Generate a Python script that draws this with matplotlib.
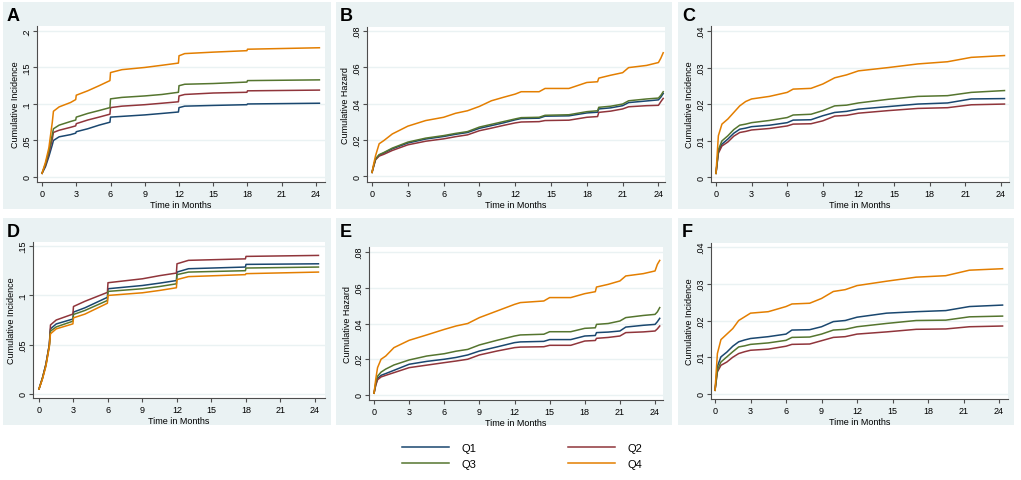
import matplotlib
matplotlib.use('Agg')
import matplotlib.pyplot as plt
from matplotlib.patches import Rectangle

plt.rcParams['font.family'] = ['Liberation Sans', 'DejaVu Sans']

W, H = 1021, 481
colors = {'Q1': '#1A476F', 'Q2': '#90353B', 'Q3': '#55752F', 'Q4': '#E37E00'}
quartiles = ['Q1', 'Q2', 'Q3', 'Q4']

# ---- data ----
# panel A: cumulative incidence
t_a = [0, 0.3, 0.6, 0.9, 1.0, 1.5, 2.5, 2.95, 3.0, 4, 5, 5.95, 6.0, 7, 9, 10.5, 11.95, 12.0, 12.5, 15, 17.95, 18.0, 24.3]
a_q1 = [0.005, 0.014, 0.028, 0.044, 0.050, 0.055, 0.058, 0.060, 0.062, 0.066, 0.071, 0.075, 0.082, 0.083, 0.085, 0.087, 0.089, 0.095, 0.097, 0.098, 0.099, 0.100, 0.101]
a_q2 = [0.005, 0.016, 0.032, 0.052, 0.061, 0.064, 0.068, 0.070, 0.073, 0.078, 0.082, 0.086, 0.095, 0.097, 0.099, 0.101, 0.103, 0.111, 0.113, 0.115, 0.116, 0.118, 0.119]
a_q3 = [0.005, 0.018, 0.035, 0.058, 0.066, 0.071, 0.076, 0.078, 0.082, 0.087, 0.091, 0.095, 0.107, 0.109, 0.111, 0.113, 0.116, 0.125, 0.127, 0.128, 0.130, 0.132, 0.133]
a_q4 = [0.005, 0.020, 0.040, 0.075, 0.090, 0.096, 0.102, 0.106, 0.112, 0.118, 0.125, 0.132, 0.143, 0.147, 0.150, 0.153, 0.156, 0.166, 0.169, 0.171, 0.173, 0.175, 0.177]

# panel B: cumulative hazard
t_b = [0, 0.15, 0.3, 0.6, 1.0, 1.7, 3, 4.5, 6, 7, 8, 9, 10, 11, 12, 12.5, 14, 14.5, 16.5, 18, 18.9, 19, 20, 21, 21.5, 23, 24, 24.2, 24.4]
b_q1 = [0.002, 0.006, 0.0093, 0.0115, 0.0127, 0.0150, 0.0182, 0.0204, 0.0218, 0.023, 0.024, 0.0263, 0.0278, 0.0293, 0.031, 0.0317, 0.0319, 0.033, 0.0332, 0.0348, 0.0352, 0.037, 0.0376, 0.0388, 0.0405, 0.0414, 0.042, 0.0435, 0.0455]
b_q2 = [0.002, 0.0055, 0.009, 0.011, 0.012, 0.0141, 0.0172, 0.0192, 0.0205, 0.0217, 0.0227, 0.025, 0.0264, 0.0279, 0.0293, 0.0298, 0.030, 0.0306, 0.0308, 0.0324, 0.0328, 0.0351, 0.0358, 0.037, 0.0382, 0.0388, 0.039, 0.041, 0.0428]
b_q3 = [0.002, 0.006, 0.0095, 0.0118, 0.013, 0.0154, 0.0187, 0.0209, 0.0223, 0.0235, 0.0245, 0.027, 0.0285, 0.030, 0.0315, 0.0322, 0.0324, 0.0335, 0.0338, 0.0355, 0.036, 0.0379, 0.0385, 0.0397, 0.0415, 0.0425, 0.043, 0.0445, 0.0465]
b_q4 = [0.002, 0.007, 0.0113, 0.0178, 0.0196, 0.0232, 0.0275, 0.0306, 0.0324, 0.0346, 0.036, 0.0384, 0.0415, 0.0434, 0.0452, 0.0465, 0.0465, 0.0483, 0.0483, 0.0516, 0.052, 0.054, 0.0556, 0.057, 0.0598, 0.061, 0.0626, 0.065, 0.068]

# panel C: cumulative incidence
t_c = [0, 0.2, 0.5, 1, 1.5, 2, 2.5, 3, 4.5, 6, 6.5, 8, 9, 10, 11, 12, 14.5, 17, 19.5, 21.5, 24.3]
c_q1 = [0.001, 0.0070, 0.0090, 0.0104, 0.0120, 0.0131, 0.0134, 0.0138, 0.0142, 0.0149, 0.0156, 0.0157, 0.0168, 0.0177, 0.0180, 0.0186, 0.0193, 0.0200, 0.0203, 0.0214, 0.0215]
c_q2 = [0.001, 0.0065, 0.0085, 0.0096, 0.0112, 0.0122, 0.0125, 0.0129, 0.0133, 0.0140, 0.0145, 0.0146, 0.0154, 0.0167, 0.0169, 0.0175, 0.0182, 0.0188, 0.0190, 0.0198, 0.0200]
c_q3 = [0.001, 0.0075, 0.0099, 0.0113, 0.0130, 0.0142, 0.0145, 0.0149, 0.0155, 0.0163, 0.0170, 0.0172, 0.0182, 0.0195, 0.0197, 0.0203, 0.0213, 0.0221, 0.0223, 0.0232, 0.0237]
c_q4 = [0.001, 0.0113, 0.0145, 0.0159, 0.0177, 0.0195, 0.0207, 0.0214, 0.0221, 0.0232, 0.0241, 0.0243, 0.0255, 0.0272, 0.0280, 0.0291, 0.0300, 0.0310, 0.0316, 0.0328, 0.0333]

# panel D: cumulative incidence
t_d = [0, 0.3, 0.6, 0.9, 1.0, 1.5, 2.95, 3.0, 4, 5.95, 6.0, 9, 10.5, 11.95, 12.0, 13, 17.95, 18.0, 24.3]
d_q1 = [0.005, 0.016, 0.030, 0.050, 0.066, 0.071, 0.076, 0.083, 0.0874, 0.098, 0.1067, 0.110, 0.1124, 0.115, 0.1236, 0.127, 0.1287, 0.1314, 0.132]
d_q2 = [0.005, 0.016, 0.030, 0.050, 0.070, 0.075, 0.081, 0.0887, 0.094, 0.103, 0.1128, 0.1168, 0.120, 0.1226, 0.132, 0.1355, 0.137, 0.1395, 0.1405]
d_q3 = [0.005, 0.016, 0.029, 0.049, 0.0637, 0.068, 0.0738, 0.0806, 0.0847, 0.0948, 0.104, 0.1067, 0.109, 0.1117, 0.121, 0.1236, 0.125, 0.1277, 0.1287]
d_q4 = [0.005, 0.015, 0.028, 0.048, 0.061, 0.066, 0.0711, 0.0772, 0.081, 0.092, 0.0999, 0.1026, 0.105, 0.1077, 0.116, 0.119, 0.121, 0.122, 0.1236]

# panel E: cumulative hazard
t_e = [0, 0.15, 0.3, 0.6, 1.0, 1.7, 3, 4.5, 6, 7, 8, 9, 10.5, 12, 12.5, 14.5, 15, 16.8, 18, 18.9, 19, 20, 21, 21.5, 23, 24, 24.2, 24.4]
e_q1 = [0.001, 0.006, 0.0092, 0.011, 0.012, 0.0138, 0.0172, 0.0188, 0.020, 0.021, 0.0224, 0.0246, 0.0269, 0.0293, 0.0297, 0.030, 0.031, 0.031, 0.033, 0.0333, 0.0349, 0.0352, 0.0358, 0.038, 0.039, 0.0395, 0.041, 0.0429]
e_q2 = [0.001, 0.0055, 0.0085, 0.0101, 0.011, 0.0125, 0.0153, 0.0167, 0.0181, 0.019, 0.020, 0.0224, 0.0246, 0.0265, 0.0268, 0.0270, 0.0278, 0.0278, 0.0302, 0.0305, 0.0317, 0.0322, 0.033, 0.0349, 0.0353, 0.0358, 0.037, 0.0386]
e_q3 = [0.001, 0.007, 0.0105, 0.0128, 0.0145, 0.0168, 0.0196, 0.0218, 0.0231, 0.0245, 0.0255, 0.028, 0.0306, 0.033, 0.0336, 0.034, 0.0354, 0.0354, 0.0373, 0.0376, 0.0395, 0.040, 0.0414, 0.0433, 0.0445, 0.0451, 0.0465, 0.0489]
e_q4 = [0.001, 0.009, 0.0153, 0.020, 0.0218, 0.0265, 0.0306, 0.0336, 0.0367, 0.0386, 0.040, 0.0433, 0.047, 0.0507, 0.0517, 0.0526, 0.0545, 0.0545, 0.0567, 0.0578, 0.0604, 0.0619, 0.0638, 0.0666, 0.0679, 0.0694, 0.0731, 0.0753]

# panel F: cumulative incidence
t_f = [0, 0.2, 0.5, 1, 1.5, 2, 2.5, 3, 4.5, 6, 6.5, 8, 9, 10, 11, 12, 14.5, 17, 19.5, 21.5, 24.3]
f_q1 = [0.001, 0.0075, 0.0101, 0.0114, 0.0130, 0.0142, 0.0147, 0.0151, 0.0156, 0.0163, 0.0174, 0.0175, 0.0183, 0.0197, 0.0200, 0.0209, 0.0220, 0.0224, 0.0227, 0.0238, 0.0242]
f_q2 = [0.001, 0.0060, 0.0078, 0.0087, 0.0100, 0.0110, 0.0115, 0.0119, 0.0122, 0.0130, 0.0135, 0.0136, 0.0145, 0.0154, 0.0156, 0.0163, 0.0169, 0.0176, 0.0177, 0.0183, 0.0185]
f_q3 = [0.001, 0.0065, 0.0087, 0.0101, 0.0115, 0.0128, 0.0131, 0.0135, 0.0139, 0.0146, 0.0154, 0.0155, 0.0163, 0.0174, 0.0176, 0.0183, 0.0192, 0.0200, 0.0201, 0.0210, 0.0212]
f_q4 = [0.001, 0.0110, 0.0148, 0.0163, 0.0178, 0.0200, 0.0210, 0.0220, 0.0224, 0.0238, 0.0245, 0.0247, 0.0260, 0.0279, 0.0284, 0.0295, 0.0307, 0.0318, 0.0322, 0.0337, 0.0341]

x_ticks = [0, 3, 6, 9, 12, 15, 18, 21, 24]
yt_inc1 = [0, 0.05, 0.1, 0.15, 0.2]
yt_haz = [0, 0.02, 0.04, 0.06, 0.08]
yt_inc2 = [0, 0.01, 0.02, 0.03, 0.04]
yt_inc3 = [0, 0.05, 0.1, 0.15]

# letter, ylabel, time, series, yticks, background box (px), plot box (px), xlim, ylim
panels = [
    ('A', 'Cumulative Incidence', t_a, [a_q1, a_q2, a_q3, a_q4], yt_inc1,
     (3, 3, 331, 210), (37, 27, 325, 183), (-0.44, 24.79), (-0.0069, 0.2068)),
    ('B', 'Cumulative Hazard', t_b, [b_q1, b_q2, b_q3, b_q4], yt_haz,
     (336, 3, 672, 210), (367, 28, 665, 183), (-0.42, 24.55), (-0.0033, 0.0822)),
    ('C', 'Cumulative Incidence', t_c, [c_q1, c_q2, c_q3, c_q4], yt_inc2,
     (678, 3, 1014, 210), (711, 27, 1009, 183), (-0.42, 24.68), (-0.00137, 0.0414)),
    ('D', 'Cumulative Incidence', t_d, [d_q1, d_q2, d_q3, d_q4], yt_inc3,
     (3, 219, 331, 426), (33, 243, 325, 399), (-0.52, 24.87), (-0.0041, 0.1541)),
    ('E', 'Cumulative Hazard', t_e, [e_q1, e_q2, e_q3, e_q4], yt_haz,
     (336, 219, 672, 426), (369, 248, 663, 401), (-0.43, 24.68), (-0.0028, 0.0828)),
    ('F', 'Cumulative Incidence', t_f, [f_q1, f_q2, f_q3, f_q4], yt_inc2,
     (678, 219, 1014, 426), (711, 244, 1008, 400), (-0.34, 24.76), (-0.00137, 0.0411)),
]

bg = '#EAF2F3'
axcol = '#4d4d4d'


def fmt(v):
    if v == 0:
        return '0'
    s = ('%g' % v)
    return s.lstrip('0')


def box(x0, y0, x1, y1):
    return [x0 / W, 1 - y1 / H, (x1 - x0) / W, (y1 - y0) / H]


fig = plt.figure(figsize=(W / 100, H / 100), dpi=100)

handles = {}
for letter, ylab, tt, series, yticks, bgbox, pbox, xl, yl in panels:
    bx0, by0, bx1, by1 = bgbox
    fig.patches.append(Rectangle((bx0 / W, 1 - by1 / H), (bx1 - bx0) / W, (by1 - by0) / H,
                                 transform=fig.transFigure, facecolor=bg, edgecolor='none', zorder=-5))
    fig.text((bx0 + 4) / W, 1 - (by0 + 18) / H, letter, fontsize=13, fontweight='bold', color='black')
    ax = fig.add_axes(box(*pbox))
    ax.set_facecolor('white')
    for q, vals in zip(quartiles, series):
        ln, = ax.plot(tt, vals, color=colors[q], lw=1.1)
        handles[q] = ln
    ax.set_xlim(*xl)
    ax.set_ylim(*yl)
    ax.set_xticks(x_ticks)
    ax.set_yticks(yticks)
    ax.set_yticklabels([fmt(v) for v in yticks], rotation=90, va='center')
    for v in yticks:
        ax.axhline(v, color=bg, lw=1.0, zorder=0)
    for s in ['top', 'right']:
        ax.spines[s].set_visible(False)
    for s in ['left', 'bottom']:
        ax.spines[s].set_color(axcol)
        ax.spines[s].set_linewidth(0.8)
    ax.tick_params(colors=axcol, labelcolor='black', labelsize=6.5, length=3, width=0.8, pad=2)
    ax.tick_params(axis='y', pad=1)
    ax.set_xlabel('Time in Months', fontsize=6.5, labelpad=1.5)
    ax.set_ylabel(ylab, fontsize=6.5, labelpad=2)

order = ['Q1', 'Q3', 'Q2', 'Q4']
fig.legend([handles[q] for q in order], order, loc='center', bbox_to_anchor=(522 / W, 1 - 457 / H),
           ncol=2, frameon=False, fontsize=8, handlelength=4.3, handletextpad=1.1,
           columnspacing=8.2, labelspacing=0.6)

fig.savefig('out.png', dpi=100, facecolor='white')
